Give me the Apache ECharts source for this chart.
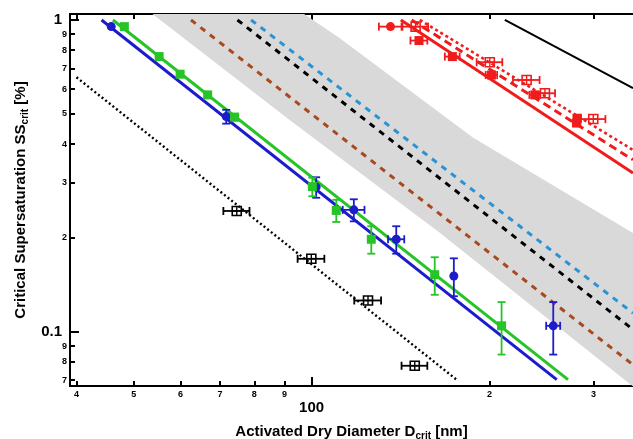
<!DOCTYPE html>
<html lang="en">
<head>
<meta charset="UTF-8">
<title>Critical supersaturation vs activated dry diameter</title>
<style>
  * { margin: 0; padding: 0; }
  html, body { width: 633px; height: 439px; background: #fff; overflow: hidden; }
  #chart { width: 633px; height: 439px; }
</style>
</head>
<body>
<div id="chart"></div>
<script src="https://cdn.jsdelivr.net/npm/echarts@6/dist/echarts.min.js"></script>
<script>
  // axis ranges and ticks
  const xRange = [39, 350];
  const yRange = [0.067, 1.045];
  const xMinorTicks = [40, 50, 60, 70, 80, 90, 200, 300];
  const xMajorTicks = [100];
  const yMinorTicks = [0.07, 0.08, 0.09, 0.2, 0.3, 0.4, 0.5, 0.6, 0.7, 0.8, 0.9];
  const yMajorTicks = [0.1, 1];

  // measured points (D in nm, SS in %)
  const blueD = [45.8, 71.7, 101.8, 117.9, 139.1, 174.1, 256.5];
  const blueSS = [0.952, 0.490, 0.291, 0.246, 0.198, 0.151, 0.1045];
  const blueDErr = [0, 0, 0, 5, 4.4, 0, 7];
  const blueSSErr = [0, 0.025, 0.022, 0.02, 0.02, 0.021, 0.02];

  const greenD = [48.2, 55.2, 59.9, 66.7, 74.1, 100.3, 110.1, 126.2, 161.6, 209.7];
  const greenSS = [0.952, 0.763, 0.670, 0.575, 0.488, 0.292, 0.245, 0.198, 0.1524, 0.1045];
  const greenDErr = [0, 0, 0, 0, 0, 0, 0, 0, 0, 0];
  const greenSSErr = [0, 0, 0, 0.012, 0.012, 0.02, 0.02, 0.02, 0.021, 0.02];

  const blackD = [74.7, 99.9, 124.6, 149.5];
  const blackSS = [0.244, 0.1714, 0.126, 0.0778];
  const blackDErr = [3.8, 5.2, 6.5, 7.5];

  const redCircD = [136.0];
  const redCircSS = [0.952];
  const redCircDErr = [6];

  const redSqD = [152.0, 173.1, 201.6, 238.7, 281.6, 281.0];
  const redSqSS = [0.859, 0.763, 0.666, 0.575, 0.484, 0.467];
  const redSqDErr = [5, 5, 4.5, 5, 4, 4];

  const redOpenD = [150.0, 200.3, 231.2, 248.3, 299.8];
  const redOpenSS = [0.952, 0.732, 0.642, 0.582, 0.481];
  const redOpenDErr = [7.5, 10, 12, 10, 14.5];

  // model curves (end points)
  const blueFitD = [44.1, 260];
  const blueFitSS = [1.0, 0.0702];
  const greenFitD = [46.1, 271.7];
  const greenFitSS = [1.0, 0.0702];
  const dottedD = [40, 176];
  const dottedSS = [0.655, 0.0702];
  const brownD = [62.5, 350];
  const brownSS = [1.0, 0.0784];
  const blackDashD = [74.9, 350];
  const blackDashSS = [1.0, 0.1017];
  const skyDashD = [79.0, 350];
  const skyDashSS = [1.0, 0.1148];
  const blackSolidD = [212.4, 350];
  const blackSolidSS = [1.0, 0.604];
  const redSolidD = [141.6, 350];
  const redSolidSS = [1.0, 0.323];
  const redDashD = [147.7, 350];
  const redDashSS = [1.0, 0.356];
  const redDotD = [152.5, 350];
  const redDotSS = [1.0, 0.383];

  // grey uncertainty band
  const bandUpperD = [92, 111.5, 187.5, 360];
  const bandUpperSS = [1.12, 0.876, 0.42, 0.201];
  const bandLowerD = [50, 91.8, 164.8, 360];
  const bandLowerSS = [1.163, 0.478, 0.2076, 0.064];

  const FONT = 'Liberation Sans, Arial, sans-serif';
  const BLUE = '#1c1ccc', GREEN = '#26c426', RED = '#f01c1c', BROWN = '#a84a1e', SKY = '#2a93d5';

  function digit(v) {
    const e = Math.floor(Math.log10(v) + 1e-9);
    return Math.round(v / Math.pow(10, e));
  }
  function near(a, b) { return Math.abs(a - b) / b < 1e-6; }

  function xAxisDef(pos, ticks, len, withLabels) {
    return {
      type: 'log', logBase: 10, position: pos, min: xRange[0], max: xRange[1],
      axisLine: { show: true, onZero: false, lineStyle: { color: '#000', width: 2 } },
      axisTick: { show: true, inside: true, length: len, customValues: ticks, lineStyle: { color: '#000', width: 2 } },
      axisLabel: withLabels ? {
        show: true, margin: 4, color: '#000',
        customValues: xMinorTicks.concat(xMajorTicks),
        formatter: v => near(v, 100) ? '{big|100}' : '{small|' + digit(v) + '}',
        rich: {
          small: { fontSize: 9, fontWeight: 'bold', fontFamily: FONT, color: '#000' },
          big: { fontSize: 15, fontWeight: 'bold', fontFamily: FONT, color: '#000', padding: [10, 0, 0, 0] }
        }
      } : { show: false },
      splitLine: { show: false }
    };
  }
  function yAxisDef(ticks, len, withLabels) {
    return {
      type: 'log', logBase: 10, position: 'left', min: yRange[0], max: yRange[1],
      axisLine: { show: true, onZero: false, lineStyle: { color: '#000', width: 2 } },
      axisTick: { show: true, inside: true, length: len, customValues: ticks, lineStyle: { color: '#000', width: 2 } },
      axisLabel: withLabels ? {
        show: true, margin: 3, color: '#000',
        customValues: yMinorTicks.concat(yMajorTicks),
        formatter: v => near(v, 1) ? '{big|1}' : near(v, 0.1) ? '{big|0.1}' : '{small|' + digit(v) + '}',
        rich: {
          small: { fontSize: 9, fontWeight: 'bold', fontFamily: FONT, color: '#000' },
          big: { fontSize: 15, fontWeight: 'bold', fontFamily: FONT, color: '#000', padding: [0, 5, 0, 0] }
        }
      } : { show: false },
      splitLine: { show: false }
    };
  }

  function curve(D, SS, color, width, type, z) {
    return {
      type: 'line', data: D.map((d, i) => [d, SS[i]]), symbol: 'none', silent: true, clip: true,
      lineStyle: { color: color, width: width, type: type || 'solid' }, z: z || 3
    };
  }

  function points(D, SS, dErr, ssErr, color, shape) {
    return {
      type: 'custom', silent: true, clip: false, z: 6,
      encode: { x: 0, y: 1 },
      data: D.map((d, i) => [d, SS[i], dErr ? dErr[i] : 0, ssErr ? ssErr[i] : 0]),
      renderItem: function (params, api) {
        const x = api.value(0), y = api.value(1), dx = api.value(2), dy = api.value(3);
        const c = api.coord([x, y]);
        const ls = { stroke: color, lineWidth: 1.8, fill: null };
        const cap = 4, h = 4.5;
        const ch = [];
        if (dx > 0) {
          const a = api.coord([x - dx, y]), b = api.coord([x + dx, y]);
          ch.push({ type: 'line', shape: { x1: a[0], y1: c[1], x2: b[0], y2: c[1] }, style: ls });
          ch.push({ type: 'line', shape: { x1: a[0], y1: c[1] - cap, x2: a[0], y2: c[1] + cap }, style: ls });
          ch.push({ type: 'line', shape: { x1: b[0], y1: c[1] - cap, x2: b[0], y2: c[1] + cap }, style: ls });
        }
        if (dy > 0) {
          const a = api.coord([x, y - dy]), b = api.coord([x, y + dy]);
          ch.push({ type: 'line', shape: { x1: c[0], y1: a[1], x2: c[0], y2: b[1] }, style: ls });
          ch.push({ type: 'line', shape: { x1: c[0] - cap, y1: a[1], x2: c[0] + cap, y2: a[1] }, style: ls });
          ch.push({ type: 'line', shape: { x1: c[0] - cap, y1: b[1], x2: c[0] + cap, y2: b[1] }, style: ls });
        }
        if (shape === 'circle') {
          ch.push({ type: 'circle', shape: { cx: c[0], cy: c[1], r: h }, style: { fill: color } });
        } else if (shape === 'square') {
          ch.push({ type: 'rect', shape: { x: c[0] - h, y: c[1] - h, width: 2 * h, height: 2 * h }, style: { fill: color } });
        } else {
          ch.push({ type: 'rect', shape: { x: c[0] - h, y: c[1] - h, width: 2 * h, height: 2 * h }, style: { fill: 'rgba(0,0,0,0)', stroke: color, lineWidth: 1.6 } });
          ch.push({ type: 'line', shape: { x1: c[0], y1: c[1] - h, x2: c[0], y2: c[1] + h }, style: { stroke: color, lineWidth: 1.4 } });
          ch.push({ type: 'line', shape: { x1: c[0] - h, y1: c[1], x2: c[0] + h, y2: c[1] }, style: { stroke: color, lineWidth: 1.4 } });
        }
        return { type: 'group', children: ch };
      }
    };
  }

  const band = {
    type: 'custom', silent: true, clip: true, z: 1,
    encode: { x: 0, y: 1 },
    data: [[bandLowerD[1], bandLowerSS[1]]],
    renderItem: function (params, api) {
      const pts = bandUpperD.map((d, i) => api.coord([d, bandUpperSS[i]]));
      for (let i = bandLowerD.length - 1; i >= 0; i--) pts.push(api.coord([bandLowerD[i], bandLowerSS[i]]));
      return { type: 'polygon', shape: { points: pts }, style: { fill: '#d9d9d9' } };
    }
  };

  const chart = echarts.init(document.getElementById('chart'), null, { renderer: 'canvas' });
  const xa = xAxisDef('bottom', xMinorTicks, 5, true);
  xa.name = '{t|Activated Dry Diameter D}{s|crit}{t| [nm]}';
  xa.nameLocation = 'middle';
  xa.nameGap = 37;
  xa.nameTextStyle = {
    rich: {
      t: { fontSize: 15, fontWeight: 'bold', fontFamily: FONT, color: '#000', lineHeight: 18 },
      s: { fontSize: 10, fontWeight: 'bold', fontFamily: FONT, color: '#000', lineHeight: 10, verticalAlign: 'bottom' }
    }
  };
  const ya = yAxisDef(yMinorTicks, 5, true);
  ya.name = '{t|Critical Supersaturation SS}{s|crit}{t| [%]}';
  ya.nameLocation = 'middle';
  ya.nameRotate = 90;
  ya.nameGap = 40;
  ya.nameTextStyle = xa.nameTextStyle;

  chart.setOption({
    animation: false,
    backgroundColor: '#fff',
    grid: { left: 70, right: 0, top: 14, bottom: 53, outerBoundsMode: 'none' },
    xAxis: [
      xa,
      xAxisDef('bottom', xMajorTicks, 9, false),
      xAxisDef('top', xMinorTicks, 5, false),
      xAxisDef('top', xMajorTicks, 9, false)
    ],
    yAxis: [
      ya,
      yAxisDef(yMajorTicks, 9, false)
    ],
    series: [
      band,
      curve(dottedD, dottedSS, '#000', 2.4, [2, 2.6]),
      curve(brownD, brownSS, BROWN, 3, [6, 6]),
      curve(blackDashD, blackDashSS, '#000', 3, [6, 6]),
      curve(skyDashD, skyDashSS, SKY, 3, [6, 6]),
      curve(blackSolidD, blackSolidSS, '#000', 2),
      curve(blueFitD, blueFitSS, BLUE, 3),
      curve(greenFitD, greenFitSS, GREEN, 3),
      curve(redSolidD, redSolidSS, RED, 3),
      curve(redDashD, redDashSS, RED, 3, [8, 5]),
      curve(redDotD, redDotSS, RED, 2.6, [3, 3]),
      points(blueD, blueSS, blueDErr, blueSSErr, BLUE, 'circle'),
      points(greenD, greenSS, greenDErr, greenSSErr, GREEN, 'square'),
      points(blackD, blackSS, blackDErr, null, '#000', 'boxplus'),
      points(redCircD, redCircSS, redCircDErr, null, RED, 'circle'),
      points(redSqD, redSqSS, redSqDErr, null, RED, 'square'),
      points(redOpenD, redOpenSS, redOpenDErr, null, RED, 'boxplus')
    ]
  });
</script>
</body>
</html>
